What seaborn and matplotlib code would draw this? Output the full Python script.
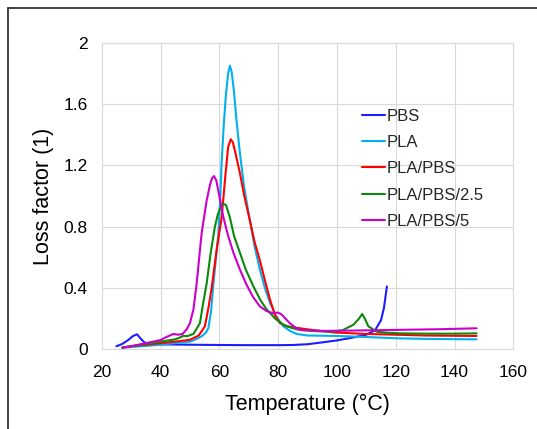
import numpy as np
import pandas as pd
import seaborn as sns
import matplotlib
matplotlib.use("Agg")
import matplotlib.pyplot as plt
from matplotlib.lines import Line2D

# values (temperature in degC, loss factor)
pbs_t = [25, 27, 29, 30.5, 32, 33, 34.5, 36, 40, 50, 60, 70, 80, 85, 90, 95, 100, 105, 110, 113, 115, 116, 117]
pbs_y = [0.02, 0.035, 0.06, 0.085, 0.098, 0.075, 0.045, 0.035, 0.032, 0.03, 0.028, 0.027, 0.027, 0.028, 0.033,
         0.045, 0.058, 0.075, 0.095, 0.125, 0.19, 0.27, 0.41]

pla_t = [27, 30, 35, 40, 45, 50, 52, 54, 55.5, 56.3, 57.2, 58, 59, 59.7, 60.3, 60.8, 61.5, 62.2, 63, 63.6,
         64.2, 65, 65.8, 67, 68.5, 70.4, 72, 73.8, 75.5, 77.3, 79.5, 81.8, 84, 86.3, 90, 100, 110, 120, 130,
         140, 147.5]
pla_y = [0.01, 0.015, 0.022, 0.03, 0.04, 0.05, 0.065, 0.085, 0.11, 0.14, 0.25, 0.43, 0.62, 0.76, 0.98, 1.22,
         1.46, 1.65, 1.8, 1.85, 1.81, 1.68, 1.5, 1.28, 1.05, 0.84, 0.67, 0.52, 0.4, 0.3, 0.21, 0.15, 0.12,
         0.1, 0.09, 0.087, 0.08, 0.072, 0.068, 0.066, 0.065]

blend_t = [27, 30, 35, 40, 45, 50, 53, 55.1, 56.3, 57.4, 59.1, 60.8, 62, 63, 63.9, 64.6, 65.5, 67, 68.5,
           70.4, 72, 73.8, 75.5, 77.3, 79, 80.7, 83, 86.3, 90, 98.8, 110, 120, 130, 140, 147.5]
blend_y = [0.012, 0.02, 0.03, 0.04, 0.05, 0.062, 0.09, 0.15, 0.27, 0.4, 0.65, 0.86, 1.12, 1.32, 1.37, 1.35,
           1.28, 1.15, 1.0, 0.84, 0.7, 0.58, 0.45, 0.32, 0.22, 0.17, 0.15, 0.14, 0.13, 0.11, 0.1, 0.095,
           0.09, 0.088, 0.087]

b25_t = [27, 30, 35, 40, 45, 47, 47.8, 49, 51.2, 53.4, 54.5, 55.7, 57, 58.5, 59.5, 60.5, 61.4, 62.3, 63.6,
         65, 67, 69, 71.6, 74, 76.1, 79, 81.8, 84.5, 87.5, 93, 98.8, 102, 105.6, 107.5, 108.6, 109.5, 110.7,
         113.5, 117, 121.5, 130, 140, 147.5]
b25_y = [0.01, 0.02, 0.035, 0.05, 0.065, 0.08, 0.088, 0.085, 0.1, 0.17, 0.3, 0.43, 0.62, 0.8, 0.88, 0.93,
         0.95, 0.94, 0.86, 0.74, 0.63, 0.52, 0.41, 0.32, 0.26, 0.2, 0.16, 0.14, 0.126, 0.118, 0.115, 0.125,
         0.16, 0.2, 0.23, 0.2, 0.15, 0.115, 0.108, 0.104, 0.102, 0.102, 0.104]

b5_t = [27, 30, 35, 40, 42, 44.4, 46, 47.5, 48.9, 50, 51.2, 52.3, 54, 55.7, 56.8, 57.5, 58.2, 59, 60, 61.4,
        63, 64.8, 67, 69.3, 71.5, 73.8, 76, 78.4, 79.8, 81, 82.5, 84, 86, 87.5, 95, 105, 115, 125, 135, 147.5]
b5_y = [0.01, 0.02, 0.04, 0.06, 0.08, 0.1, 0.095, 0.1, 0.13, 0.17, 0.26, 0.43, 0.76, 0.97, 1.07, 1.115,
        1.13, 1.1, 1.0, 0.86, 0.74, 0.63, 0.52, 0.42, 0.34, 0.28, 0.25, 0.235, 0.24, 0.23, 0.2, 0.17, 0.14,
        0.126, 0.12, 0.122, 0.125, 0.128, 0.131, 0.137]

labels = ["PBS", "PLA", "PLA/PBS", "PLA/PBS/2.5", "PLA/PBS/5"]
colors = ["#1c1cff", "#00b0f0", "#ff0000", "#0a8a0a", "#cc00cc"]

series = [(pbs_t, pbs_y), (pla_t, pla_y), (blend_t, blend_y), (b25_t, b25_y), (b5_t, b5_y)]
frames = []
for lab, (t, y) in zip(labels, series):
    frames.append(pd.DataFrame({"T": t, "loss": y, "sample": lab}))
df = pd.concat(frames, ignore_index=True)

sns.set_theme(style="whitegrid")
plt.rcParams["font.family"] = ["Liberation Sans", "DejaVu Sans"]

fig = plt.figure(figsize=(5.37, 4.29), dpi=100)
ax = fig.add_axes([0.1894, 0.1858, 0.7665, 0.7147])

sns.lineplot(data=df, x="T", y="loss", hue="sample", hue_order=labels,
             palette=dict(zip(labels, colors)), estimator=None, sort=False,
             linewidth=1.5, ax=ax)

ax.set_xlim(20, 160)
ax.set_ylim(0, 2)
ax.set_xticks(np.arange(20, 161, 20))
ax.set_yticks([0, 0.4, 0.8, 1.2, 1.6, 2])
ax.set_yticklabels(["0", "0.4", "0.8", "1.2", "1.6", "2"])
ax.tick_params(axis="both", labelsize=12.5, length=0, colors="black")
ax.tick_params(axis="y", pad=10)
ax.tick_params(axis="x", pad=11)
ax.grid(color="#d9d9d9", linewidth=0.8)
for s in ax.spines.values():
    s.set_color("#d9d9d9")
    s.set_linewidth(0.8)

ax.set_xlabel("Temperature (°C)", fontsize=15.5, labelpad=10, color="black")
ax.set_ylabel("Loss factor (1)", fontsize=15.5, labelpad=7, color="black")

ax.legend(loc="upper left", bbox_to_anchor=(0.632, 0.785), frameon=False, fontsize=12,
          handlelength=1.4, handletextpad=0.1, labelspacing=0.68, borderpad=0, borderaxespad=0)

# outer frame (left and top edges visible in the reference)
fig.add_artist(Line2D([8 / 537, 8 / 537], [0, 1 - 8 / 429], color="#333333", linewidth=1.3))
fig.add_artist(Line2D([8 / 537, 1], [1 - 8 / 429, 1 - 8 / 429], color="#333333", linewidth=1.3))

fig.savefig("out.png", dpi=100)
